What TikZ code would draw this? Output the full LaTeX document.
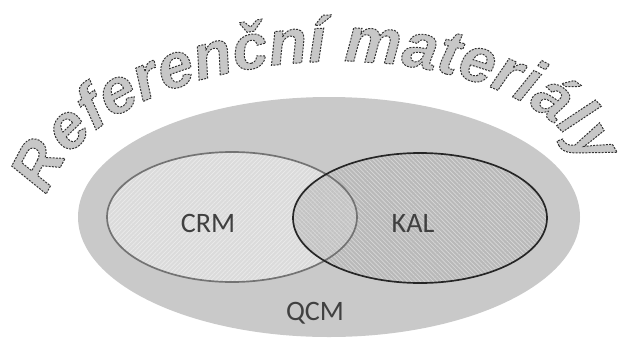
\documentclass[tikz,border=0pt]{standalone}
\usepackage{fontspec}
\usepackage{tikz}
\usetikzlibrary{decorations.text}
\usetikzlibrary{patterns.meta}
\usepackage{xcolor}
\newfontfamily\labelfont{Carlito}
\newfontfamily\arcfont{Liberation Sans}[BoldItalicFont={* Bold Italic}]
% gray letters with a dashed dark outline
\newcommand{\outlinefx}{\special{pdf:literal direct 2 Tr 0.7 w [1.4 0.9] 0 d 0.2 G}}

\begin{document}
\begin{tikzpicture}[x=0.025cm, y=0.025cm,
					venn/.style={line width=1.2pt},
					lbl/.style={font=\labelfont\fontsize{20}{22}\selectfont, text=black!75}
					]
					\useasboundingbox (0,0) rectangle (624,338);
					
					%Sets
					\fill[black!21] (329,121) ellipse [x radius=251, y radius=120];
					\fill[black!14] (232,121) ellipse [x radius=125, y radius=65];
					\fill[pattern={Lines[angle=45, distance=2.2pt, line width=0.5pt]}, pattern color=white!92!black] (232,121) ellipse [x radius=125, y radius=65];
					\fill[black!35, opacity=0.45] (420,120) ellipse [x radius=127, y radius=65];
					\fill[pattern={Lines[angle=-45, distance=2.2pt, line width=0.5pt]}, pattern color=white!85!black] (420,120) ellipse [x radius=127, y radius=65];
					\draw[venn, black!55] (232,121) ellipse [x radius=125, y radius=65];
					\draw[venn, black!85] (420,120) ellipse [x radius=127, y radius=65];
					
					%Labels
					\node[lbl] (crm) at (208,115) {CRM};
					\node[lbl] (kal) at (413,115) {KAL};
					\node[lbl] (qcm) at (315,25) {QCM};
					
					%Title
					\path[decorate, rotate around={3:(318,135)}, decoration={text along path, text align=center,
						text={|\arcfont\bfseries\itshape\fontsize{45}{45}\selectfont\color{black!22}\outlinefx|Referenční materiály}}]
						(318,135) ++(180:272 and 141) arc[start angle=180, end angle=0, x radius=272, y radius=141];
				\end{tikzpicture}
\end{document}
